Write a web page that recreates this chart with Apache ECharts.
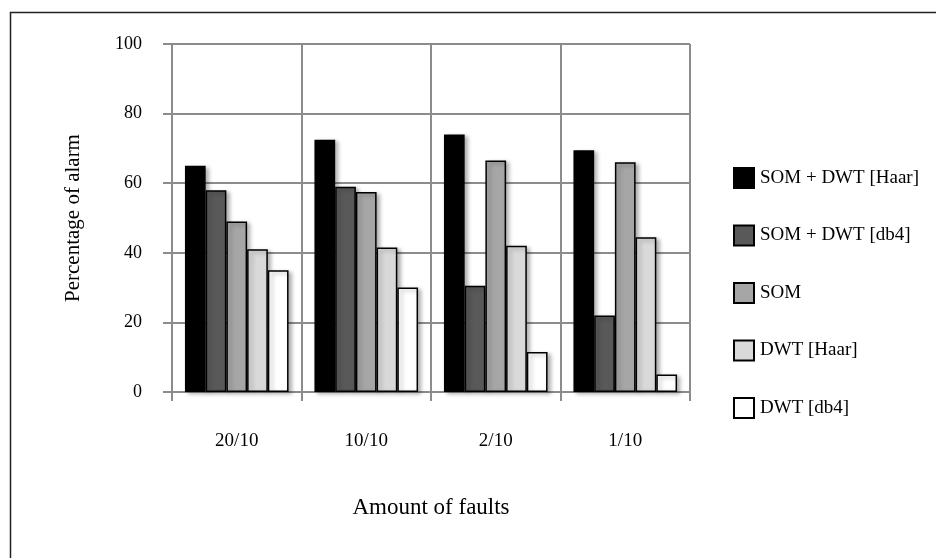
<!DOCTYPE html>
<html>
<head>
<meta charset="utf-8">
<script src="https://cdn.jsdelivr.net/npm/echarts@6/dist/echarts.min.js"></script>
<style>
html,body{margin:0;padding:0;background:#fff;}
#chart{width:936px;height:558px;}
</style>
</head>
<body>
<div id="chart"></div>
<script>
const categories = ['20/10', '10/10', '2/10', '1/10'];
const seriesNames = ['SOM + DWT [Haar]', 'SOM + DWT [db4]', 'SOM', 'DWT [Haar]', 'DWT [db4]'];
const somDwtHaar = [65, 72.5, 74, 69.5];
const somDwtDb4 = [58, 59, 30.5, 22];
const som = [49, 57.5, 66.5, 66];
const dwtHaar = [41, 41.5, 42, 44.5];
const dwtDb4 = [35, 30, 11.5, 5];
const yTicks = [0, 20, 40, 60, 80, 100];

const seriesData = [somDwtHaar, somDwtDb4, som, dwtHaar, dwtDb4];
const colors = ['#000000', '#595959', '#a6a6a6', '#d9d9d9', '#ffffff'];
const FONT = "'Liberation Serif', 'DejaVu Serif', serif";

const chart = echarts.init(document.getElementById('chart'), null, {renderer: 'canvas'});
chart.setOption({
  animation: false,
  backgroundColor: '#fff',
  graphic: [{
    type: 'rect',
    shape: {x: 10.5, y: 12.5, width: 940, height: 560},
    style: {fill: 'none', stroke: '#222', lineWidth: 1.5},
    silent: true, z: -10
  }],
  grid: {left: 172, right: 246, top: 44, bottom: 166},
  legend: {
    orient: 'vertical',
    left: 733,
    top: 167,
    padding: 0,
    itemWidth: 20,
    itemHeight: 20,
    itemGap: 35.5,
    icon: 'rect',
    data: seriesNames,
    textStyle: {fontFamily: FONT, fontSize: 19, lineHeight: 20, color: '#000', padding: [0, 0, 0, 1]}
  },
  xAxis: {
    type: 'category',
    data: categories,
    name: 'Amount of faults',
    nameLocation: 'middle',
    nameGap: 104,
    nameTextStyle: {fontFamily: FONT, fontSize: 23, color: '#000'},
    axisLine: {lineStyle: {color: '#8c8c8c', width: 2}},
    axisTick: {show: true, length: 9, lineStyle: {color: '#8c8c8c', width: 2}},
    axisLabel: {fontFamily: FONT, fontSize: 19, color: '#000', margin: 40},
    splitLine: {show: true, lineStyle: {color: '#8c8c8c', width: 2}}
  },
  yAxis: {
    type: 'value',
    min: 0, max: 100, interval: 20,
    name: 'Percentage of alarm',
    nameLocation: 'middle',
    nameGap: 88,
    nameTextStyle: {fontFamily: FONT, fontSize: 21, color: '#000'},
    axisLine: {show: true, lineStyle: {color: '#8c8c8c', width: 2}},
    axisTick: {show: true, length: 9, lineStyle: {color: '#8c8c8c', width: 2}},
    axisLabel: {
      fontFamily: FONT, fontSize: 18, color: '#000', margin: 30,
      formatter: function (v) { return yTicks.indexOf(v) >= 0 ? String(v) : ''; }
    },
    splitLine: {show: true, lineStyle: {color: '#8c8c8c', width: 2}}
  },
  series: seriesNames.map(function (name, i) {
    return {
      name: name,
      type: 'bar',
      data: seriesData[i],
      barGap: '0%',
      barCategoryGap: '20%',
      itemStyle: {
        color: colors[i],
        borderColor: '#000',
        borderWidth: 1.5,
        shadowBlur: 4,
        shadowOffsetX: 3,
        shadowOffsetY: 2,
        shadowColor: 'rgba(0,0,0,0.3)'
      }
    };
  })
});
</script>
</body>
</html>
